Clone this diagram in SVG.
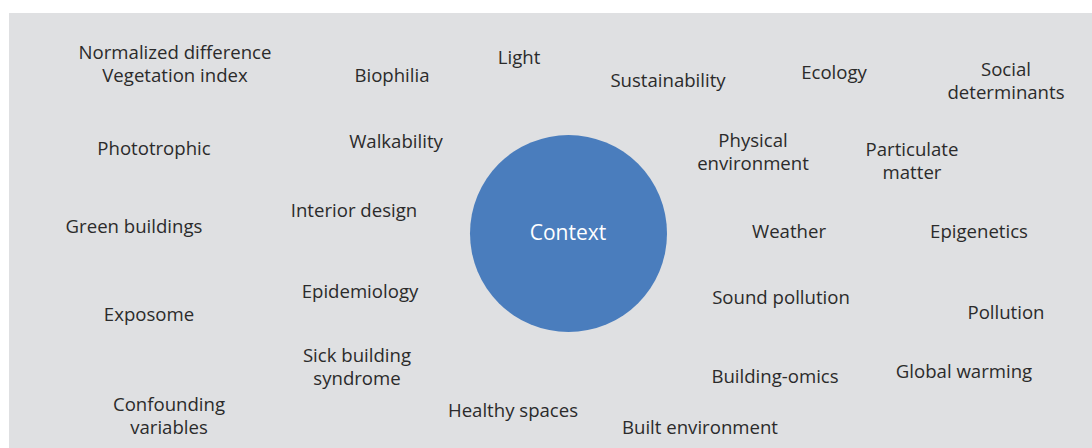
<svg xmlns="http://www.w3.org/2000/svg" width="1092" height="448" viewBox="0 0 1092 448">
  <style>
    .lbl { font-family: "Open Sans", "Noto Sans", "Liberation Sans", sans-serif; font-size: 18.6px; fill: #2b2b2b; text-anchor: middle; }
    .hub { font-family: "Open Sans", "Noto Sans", "Liberation Sans", sans-serif; font-size: 21px; fill: #ffffff; text-anchor: middle; }
  </style>
  <rect x="0" y="0" width="1092" height="448" fill="#ffffff"/>
  <rect x="9" y="13" width="1083" height="435" fill="#dfe0e2"/>

  <g id="context">
    <circle cx="568.5" cy="233.5" r="98.5" fill="#4a7dbd"/>
    <text class="hub" x="568" y="240">Context</text>
  </g>

  <g id="terms">
    <g id="ndvi"><text class="lbl" x="175" y="59">Normalized difference<tspan x="175" dy="23">Vegetation index</tspan></text></g>
    <g id="biophilia"><text class="lbl" x="392" y="82">Biophilia</text></g>
    <g id="light"><text class="lbl" x="519" y="64">Light</text></g>
    <g id="sustainability"><text class="lbl" x="668" y="87">Sustainability</text></g>
    <g id="ecology"><text class="lbl" x="834" y="79">Ecology</text></g>
    <g id="social"><text class="lbl" x="1006" y="75.5">Social<tspan x="1006" dy="23">determinants</tspan></text></g>
    <g id="phototrophic"><text class="lbl" x="154" y="155">Phototrophic</text></g>
    <g id="walkability"><text class="lbl" x="396" y="148">Walkability</text></g>
    <g id="physical"><text class="lbl" x="753" y="147">Physical<tspan x="753" dy="23">environment</tspan></text></g>
    <g id="particulate"><text class="lbl" x="912" y="155.5">Particulate<tspan x="912" dy="23">matter</tspan></text></g>
    <g id="green"><text class="lbl" x="134" y="233">Green buildings</text></g>
    <g id="interior"><text class="lbl" x="354" y="217">Interior design</text></g>
    <g id="weather"><text class="lbl" x="789" y="238">Weather</text></g>
    <g id="epigenetics"><text class="lbl" x="979" y="238">Epigenetics</text></g>
    <g id="epidemiology"><text class="lbl" x="360" y="298">Epidemiology</text></g>
    <g id="sound"><text class="lbl" x="781" y="304">Sound pollution</text></g>
    <g id="exposome"><text class="lbl" x="149" y="321">Exposome</text></g>
    <g id="pollution"><text class="lbl" x="1006" y="319">Pollution</text></g>
    <g id="sick"><text class="lbl" x="357" y="362">Sick building<tspan x="357" dy="23">syndrome</tspan></text></g>
    <g id="omics"><text class="lbl" x="775" y="383">Building-omics</text></g>
    <g id="warming"><text class="lbl" x="964" y="378">Global warming</text></g>
    <g id="confounding"><text class="lbl" x="169" y="410.5">Confounding<tspan x="169" dy="23">variables</tspan></text></g>
    <g id="healthy"><text class="lbl" x="513" y="417">Healthy spaces</text></g>
    <g id="built"><text class="lbl" x="700" y="434">Built environment</text></g>
  </g>

  <g id="connectors"/>
</svg>
